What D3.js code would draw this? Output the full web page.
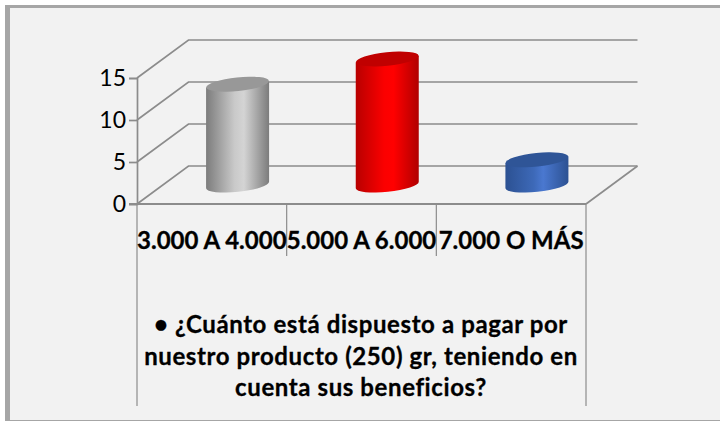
<!DOCTYPE html>
<html>
<head>
<meta charset="utf-8">
<script src="https://cdn.jsdelivr.net/npm/d3@7"></script>
<style>
  html, body { margin: 0; padding: 0; background: #fff; }
  svg { display: block; }
  text { font-family: Lato, "Open Sans", sans-serif; fill: #000; font-variant-ligatures: none; }
  .catLabel, .titleLine { stroke: #000; stroke-width: 0.3px; }
</style>
</head>
<body>
<div id="chart"></div>
<script>
var categories = ["3.000 A 4.000", "5.000 A 6.000", "7.000 O MÁS"];
var values = [12, 15, 3];
var yTicks = [0, 5, 10, 15];
var titleLines = ["• ¿Cuánto está dispuesto a pagar por", "nuestro producto (250) gr, teniendo en", "cuenta sus beneficios?"];
var topColors = ["#989898", "#c00000", "#2f5597"];
var sideColors = [
  ["#7c7c7c", "#c9c9c9", "#d4d4d4", "#7c7c7c"],
  ["#b80000", "#fb0000", "#ff0000", "#b00000"],
  ["#2c5192", "#3d69b8", "#4a78d0", "#2c5192"]
];

var width = 720, height = 421;
var geo = { left: 137, right: 586, top: 78, bottom: 204, depthX: 51.5, depthY: -38, axisBottom: 406, sepBottom: 256 };
var gridColor = "#8c8c8c";

var svg = d3.select("#chart").append("svg")
    .attr("width", width)
    .attr("height", height);

// panel + thick left/top border
svg.append("rect").attr("x", 5).attr("y", 5).attr("width", 715).attr("height", 416).attr("fill", "#a6a6a6");
svg.append("rect").attr("x", 10).attr("y", 8).attr("width", 710).attr("height", 412).attr("fill", "#f2f2f2");

var x = d3.scaleBand().domain(categories).range([geo.left, geo.right]);
var y = d3.scaleLinear().domain([0, 15]).range([geo.bottom, geo.top]);

var defs = svg.append("defs");
sideColors.forEach(function(c, i) {
  var g = defs.append("linearGradient").attr("id", "side" + i);
  [0, 0.45, 0.6, 1].forEach(function(o, j) {
    g.append("stop").attr("offset", o).attr("stop-color", c[j]);
  });
});

//--------------------------------------------------------------------------
// walls and floor
var grid = svg.append("g").attr("fill", "none").attr("stroke", gridColor).attr("stroke-width", 1.7);
yTicks.forEach(function(t) {
  grid.append("polyline").attr("points", [
    [geo.left, y(t)],
    [geo.left + geo.depthX, y(t) + geo.depthY],
    [geo.right + geo.depthX, y(t) + geo.depthY]
  ].join(" "));
});
grid.append("polyline").attr("points", [
  [geo.right, geo.bottom],
  [geo.right + geo.depthX, geo.bottom + geo.depthY]
].join(" "));

//--------------------------------------------------------------------------
// axes
var yAxis = svg.append("g")
    .attr("transform", "translate(" + geo.left + ",0)")
    .call(d3.axisLeft(y).tickValues(yTicks).tickSize(8).tickPadding(3));
yAxis.select(".domain").attr("stroke", gridColor).attr("stroke-width", 1.7);
yAxis.selectAll("line").attr("stroke", gridColor).attr("stroke-width", 1.7);
yAxis.selectAll("text").style("font-size", "23px").style("font-family", "Lato");

svg.append("line").attr("x1", geo.left - 8).attr("x2", geo.right)
    .attr("y1", y(0)).attr("y2", y(0))
    .attr("stroke", gridColor).attr("stroke-width", 1.8);

var seps = [geo.left].concat(categories.map(function(c) { return x(c) + x.bandwidth(); }));
seps.forEach(function(s, i) {
  svg.append("line").attr("x1", s).attr("x2", s)
      .attr("y1", y(0))
      .attr("y2", (i === 0 || i === seps.length - 1) ? geo.axisBottom : geo.sepBottom)
      .attr("stroke", gridColor).attr("stroke-width", 1.2);
});

svg.selectAll(".catLabel").data(categories).enter().append("text")
    .attr("class", "catLabel")
    .attr("x", function(d) { return x(d) + x.bandwidth() / 2; })
    .attr("y", 249)
    .attr("text-anchor", "middle")
    .style("font-weight", 700)
    .style("font-size", "24px")
    .text(function(d) { return d; });

svg.selectAll(".titleLine").data(titleLines).enter().append("text")
    .attr("class", "titleLine")
    .attr("x", 361)
    .attr("y", function(d, i) { return 333 + i * 31.5; })
    .attr("text-anchor", "middle")
    .style("font-weight", 700)
    .style("font-size", "24px")
    .style("letter-spacing", "0.6px")
    .text(function(d) { return d; });

//--------------------------------------------------------------------------
// cylinders
var rx = 31.5, ry = 6.8, rise = 3.3;
var col = svg.selectAll(".col").data(values).enter().append("g").attr("class", "col");

col.append("path")
    .attr("fill", function(d, i) { return "url(#side" + i + ")"; })
    .attr("d", function(d, i) {
      var cx = x(categories[i]) + x.bandwidth() / 2 + geo.depthX / 2;
      var top = y(d) + geo.depthY / 2, base = y(0) + geo.depthY / 2;
      return "M" + (cx - rx) + "," + (top + rise) +
        "L" + (cx + rx) + "," + (top - rise) +
        "L" + (cx + rx) + "," + (base - rise) +
        "A" + rx + "," + ry + " -6 0 1 " + (cx - rx) + "," + (base + rise) + "Z";
    });

col.append("ellipse")
    .attr("fill", function(d, i) { return topColors[i]; })
    .attr("rx", rx)
    .attr("ry", ry)
    .attr("transform", function(d, i) {
      var cx = x(categories[i]) + x.bandwidth() / 2 + geo.depthX / 2;
      return "translate(" + cx + "," + (y(d) + geo.depthY / 2) + ") rotate(-6)";
    });
</script>
</body>
</html>
